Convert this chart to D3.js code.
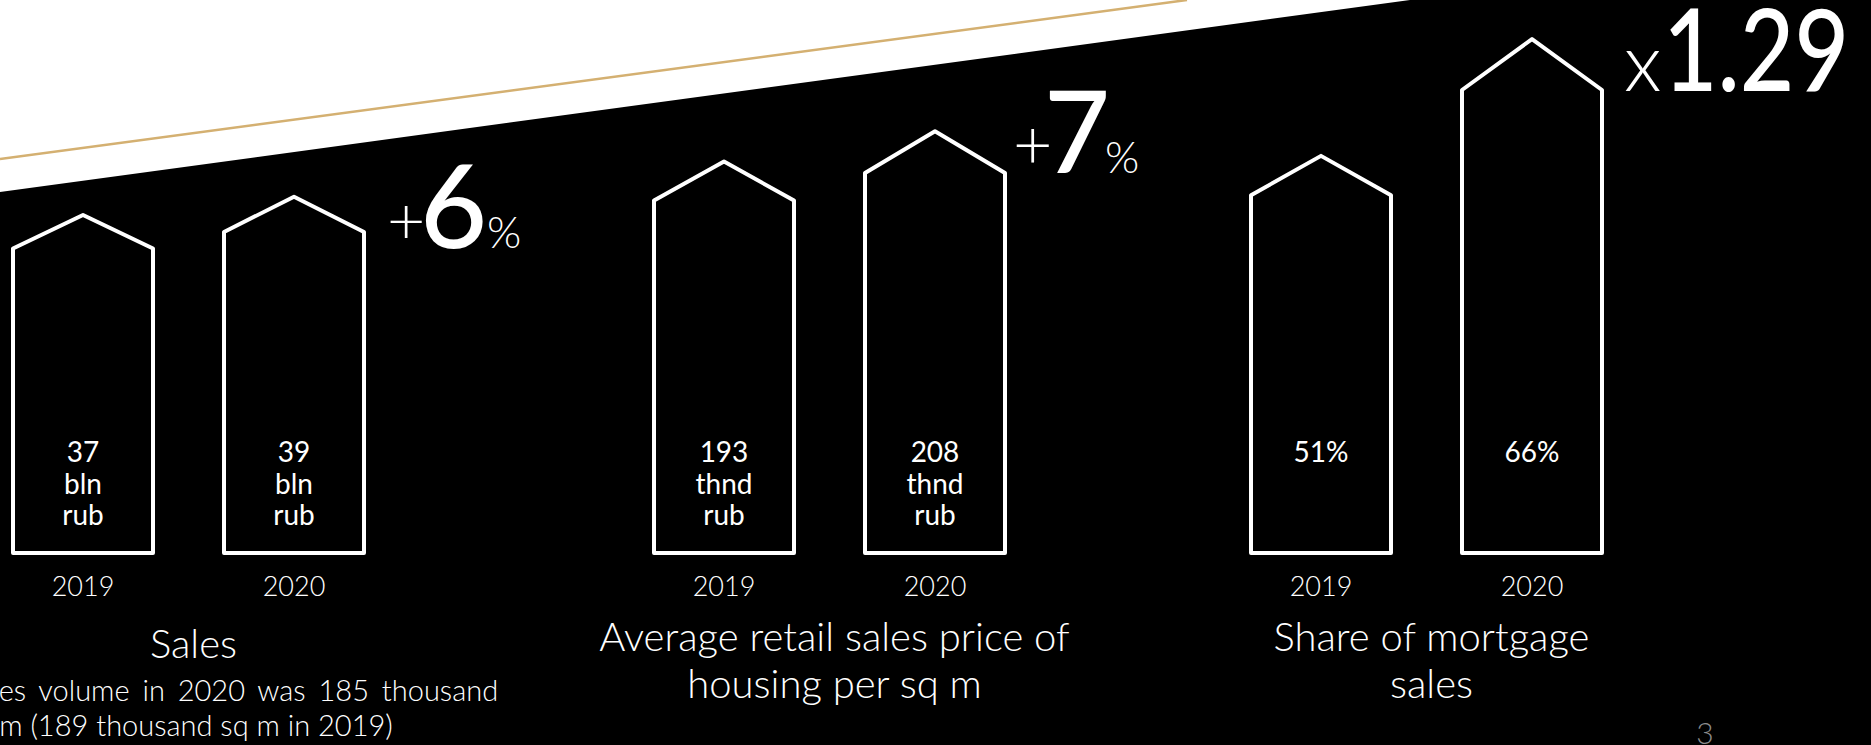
<!DOCTYPE html>
<html>
<head>
<meta charset="utf-8">
<script src="https://cdn.jsdelivr.net/npm/d3@7"></script>
<style>
    html, body { margin: 0; padding: 0; background: #000; overflow: hidden; }
    svg { display: block; }
    text { font-family: Lato, "Noto Sans", sans-serif; fill: #fff; }
</style>
</head>
<body>
<svg id="chart"></svg>
<script>
// data
const years = ["2019", "2020"];
const salesValues = [37, 39];
const priceValues = [193, 208];
const mortgageValues = [51, 66];
const salesUnits = ["bln", "rub"];
const priceUnits = ["thnd", "rub"];
const mortgageUnits = [];
const titles = [
    ["Sales"],
    ["Average retail sales price of", "housing per sq m"],
    ["Share of mortgage", "sales"]
];
const changePrefix = ["+", "+", "x"];
const changeValue = ["6", "7", "1.29"];
const changeSuffix = ["%", "%", ""];
const salesNote = ["Sales volume in 2020 was 185 thousand", "sq m (189 thousand sq m in 2019)"];
const pageNumber = "3";

const panels = [
    {values: salesValues, units: salesUnits, fmt: d => `${d}`},
    {values: priceValues, units: priceUnits, fmt: d => `${d}`},
    {values: mortgageValues, units: mortgageUnits, fmt: d => `${d}%`}
];

// layout
const W = 1871, H = 745;
const baseY = 553;
const groupWidth = 351;
const panelLeft = [13, 654, 1251];
const panelMaxHeight = [321, 380, 463];
const roofRatio = 0.11;
const titleY = [658, 651, 651];
const changePos = [
    {y: 248, prefixX: 387, prefixY: 244, prefixSize: 66, valueX: 420, valueSize: 116, valueLen: null, suffixX: 487, suffixSize: 44},
    {y: 173, prefixX: 1013, prefixY: 169, prefixSize: 68, valueX: 1044, valueSize: 114, valueLen: null, suffixX: 1105, suffixSize: 44},
    {y: 91, prefixX: 1624, prefixY: 91, prefixSize: 80, valueX: 1663, valueSize: 114, valueLen: 186, suffixX: 0, suffixSize: 0}
];

const svg = d3.select("#chart").attr("width", W).attr("height", H);

svg.append("rect").attr("width", W).attr("height", H).attr("fill", "#000");

// white wedge at the top and the gold rule
svg.append("path")
    .attr("d", "M0,0 L1410,0 L0,192 Z")
    .attr("fill", "#fff");
svg.append("line")
    .attr("x1", 0).attr("y1", 159)
    .attr("x2", 1187).attr("y2", 0)
    .attr("stroke", "#d4b071")
    .attr("stroke-width", 2.5);

panels.forEach((p, i) => {
    const g = svg.append("g").attr("transform", `translate(${panelLeft[i]},0)`);

    const x = d3.scaleBand()
        .domain(years)
        .range([0, groupWidth])
        .paddingInner(71 / 211)
        .paddingOuter(0);

    const y = d3.scaleLinear()
        .domain([0, d3.max(p.values)])
        .range([0, panelMaxHeight[i]]);

    const bw = x.bandwidth();

    const housePath = (v, yr) => {
        const x0 = x(yr), x1 = x0 + bw, h = y(v);
        const top = baseY - h;
        const path = d3.path();
        path.moveTo(x0, baseY);
        path.lineTo(x0, top);
        path.lineTo(x0 + bw / 2, top - h * roofRatio);
        path.lineTo(x1, top);
        path.lineTo(x1, baseY);
        path.closePath();
        return path.toString();
    };

    g.selectAll(".house")
        .data(p.values)
        .enter()
        .append("path")
        .attr("class", "house")
        .attr("d", (d, j) => housePath(d, years[j]))
        .attr("fill", "none")
        .attr("stroke", "#fff")
        .attr("stroke-width", 4)
        .attr("stroke-linejoin", "round");

    // value labels inside the houses
    p.values.forEach((v, j) => {
        const lines = [p.fmt(v)].concat(p.units);
        const t = g.append("text")
            .attr("text-anchor", "middle")
            .attr("font-size", 28)
            .attr("font-weight", 400);
        lines.forEach((ln, k) => {
            t.append("tspan")
                .attr("x", x(years[j]) + bw / 2)
                .attr("y", 462 + k * 31.5)
                .text(ln);
        });
    });

    // year axis
    const axis = d3.axisBottom(x).tickSize(0).tickPadding(0);
    const ax = g.append("g")
        .attr("transform", `translate(0,${596})`)
        .call(axis);
    ax.select(".domain").remove();
    ax.selectAll("text")
        .attr("dy", 0)
        .attr("fill", "#fff")
        .style("font-family", "Lato, 'Noto Sans', sans-serif")
        .style("font-size", "27px")
        .style("font-weight", 300);

    // panel title
    const tt = g.append("text")
        .attr("text-anchor", "middle")
        .attr("font-size", 40)
        .attr("font-weight", 300);
    titles[i].forEach((ln, k) => {
        tt.append("tspan")
            .attr("x", groupWidth / 2 + 5)
            .attr("y", titleY[i] + k * 47)
            .text(ln);
    });

    // growth annotation: sign, number, unit
    const c = changePos[i];
    svg.append("text")
        .attr("x", c.prefixX)
        .attr("y", c.prefixY)
        .attr("font-size", c.prefixSize)
        .attr("font-weight", 300)
        .text(changePrefix[i]);
    const vt = svg.append("text")
        .attr("x", c.valueX)
        .attr("y", c.y)
        .attr("font-size", c.valueSize)
        .attr("font-weight", 500)
        .text(changeValue[i]);
    if (c.valueLen) {
        vt.attr("textLength", c.valueLen).attr("lengthAdjust", "spacingAndGlyphs");
    }
    if (changeSuffix[i]) {
        svg.append("text")
            .attr("x", c.suffixX)
            .attr("y", c.y)
            .attr("font-size", c.suffixSize)
            .attr("font-weight", 300)
            .text(changeSuffix[i]);
    }
});

// note under "Sales" (runs off the left edge like on the slide)
const note = svg.append("text")
    .attr("font-size", 29)
    .attr("font-weight", 300);
salesNote.forEach((ln, k) => {
    note.append("tspan")
        .attr("x", -37)
        .attr("y", 701 + k * 35)
        .attr("word-spacing", k === 0 ? 5 : 0)
        .text(ln);
});

svg.append("text")
    .attr("x", 1705)
    .attr("y", 744)
    .attr("text-anchor", "middle")
    .attr("font-size", 30)
    .attr("font-weight", 300)
    .style("fill", "#8c8c8c")
    .text(pageNumber);
</script>
</body>
</html>
